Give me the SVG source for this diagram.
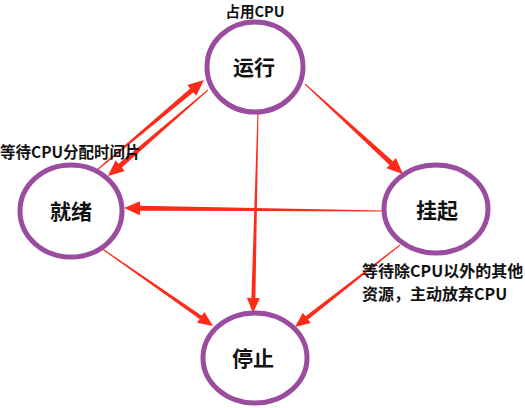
<svg xmlns="http://www.w3.org/2000/svg" width="525" height="408" viewBox="0 0 525 408">
<style>
.node ellipse{fill:#fff;stroke:#9A4C9E;stroke-width:5}
.node text{font-family:"Noto Sans CJK SC","Noto Sans",sans-serif;font-weight:bold;font-size:21px;fill:#111;text-anchor:middle}
.lbl{font-family:"Noto Sans CJK SC","Noto Sans",sans-serif;font-weight:bold;font-size:16px;fill:#111}
.arr polygon{fill:#FF2A1A}
</style>
<rect width="525" height="408" fill="#fff"/>
<g id="connectors" class="arr">
<polygon points="97.3,170.4 193.4,92.2 196.3,95.7 204,80 187.3,84.9 190.2,88.4 96.7,169.6"/>
<polygon points="207.7,89.6 118.5,163.7 115.6,160.3 108,176 124.7,170.9 121.8,167.5 208.3,90.4"/>
<polygon points="304.7,84.4 389.5,165.0 386.5,168.3 403,174 395.9,158.0 392.9,161.3 305.3,83.6"/>
<polygon points="383,210.5 140,205.7 140.1,201.2 124,208 139.9,215.2 140,210.7 383,211.5"/>
<polygon points="257.5,112 251.4,298 246.9,297.8 253,313 259.9,298.2 255.4,298 258.5,112"/>
<polygon points="100.7,248.4 199.6,319.1 197,322.8 213,326 204.4,312.1 201.8,315.8 101.3,247.6"/>
<polygon points="399.7,244.6 305.6,316.2 302.8,312.7 295,327 310.8,322.9 308.1,319.4 400.3,245.4"/>
</g>
<g id="run" class="node">
<ellipse cx="255" cy="67" rx="48" ry="45"/>
<text x="254" y="75">运行</text>
</g>
<g id="ready" class="node">
<ellipse cx="71" cy="211" rx="51" ry="46"/>
<text x="71" y="219">就绪</text>
</g>
<g id="suspend" class="node">
<ellipse cx="436" cy="209" rx="52" ry="44"/>
<text x="437" y="218">挂起</text>
</g>
<g id="stop" class="node">
<ellipse cx="255" cy="358" rx="52" ry="45"/>
<text x="253" y="366">停止</text>
</g>
<text class="lbl" x="255" y="17" text-anchor="middle" style="font-size:14.5px">占用CPU</text>
<text class="lbl" x="0" y="158" style="font-size:15.5px">等待CPU分配时间片</text>
<text class="lbl" x="362" y="277">等待除CPU以外的其他</text>
<text class="lbl" x="362" y="300">资源，主动放弃CPU</text>
</svg>
